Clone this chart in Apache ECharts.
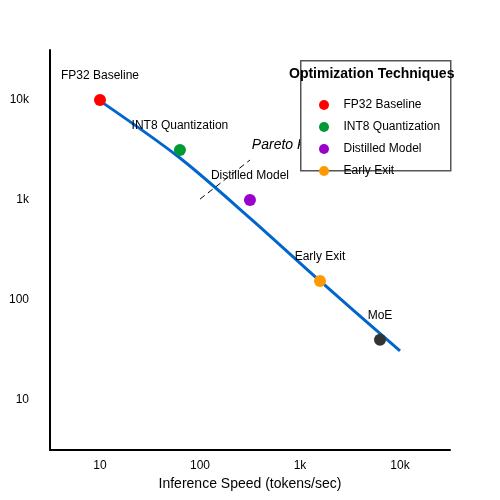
<!DOCTYPE html>
<html>
<head>
<meta charset="utf-8">
<script src="https://cdn.jsdelivr.net/npm/echarts@6/dist/echarts.min.js"></script>
<style>html,body{margin:0;padding:0;background:#fff}#c{width:500px;height:500px}</style>
</head>
<body>
<div id="c"></div>
<script>
// 各优化方法：名称、速度(tokens/sec)、困惑度
var names = ['FP32 Baseline', 'INT8 Quantization', 'Distilled Model', 'Early Exit', 'MoE'];
var speeds = [10, 63, 316, 1585, 6310];
var perplexity = [10000, 3162, 1000, 155, 40];
var colors = ['#ff0000', '#009933', '#9900cc', '#ff9900', '#333333'];

// Pareto 前沿曲线
var frontierSpeed = [10, 63, 316, 1585, 10000];
var frontierPpl = [9800, 2630, 660, 155, 31];

// 注释虚线
var noteSpeed = [100, 316];
var notePpl = [1020, 2510];

var tickValues = [1, 2, 3, 4];
var tickLabels = ['10', '100', '1k', '10k'];

var lg = Math.log10;
var myChart = echarts.init(document.getElementById('c'));

var series = names.map(function (n, i) {
    return {
        name: n,
        type: 'scatter',
        symbolSize: 12,
        z: 5,
        itemStyle: {color: colors[i], opacity: 1},
        label: {show: true, position: 'top', distance: 12, formatter: n, color: '#000', fontSize: 12},
        data: [[lg(speeds[i]), lg(perplexity[i])]]
    };
});

series.unshift({
    type: 'line',
    smooth: 0.3,
    symbol: 'none',
    z: 2,
    lineStyle: {color: '#0066cc', width: 3},
    data: frontierSpeed.map(function (v, i) { return [lg(v), lg(frontierPpl[i])]; })
});

series.push({
    type: 'line',
    symbol: 'none',
    z: 2,
    lineStyle: {color: '#000', width: 1, type: [6, 4]},
    data: noteSpeed.map(function (v, i) { return [lg(v), lg(notePpl[i])]; })
});

series.push({
    type: 'scatter',
    symbolSize: 0,
    z: 3,
    itemStyle: {opacity: 1},
    label: {show: true, position: 'right', distance: 0, formatter: 'Pareto Frontier', fontStyle: 'italic', fontSize: 14, color: '#000'},
    data: [[lg(330), lg(3500)]]
});

var axisCommon = {
    type: 'value',
    min: 0.5,
    max: 4.5,
    splitLine: {show: false},
    axisLine: {show: true, lineStyle: {color: '#000', width: 2}},
    axisTick: {show: false},
    nameLocation: 'middle',
    nameTextStyle: {color: '#000', fontSize: 14},
    axisLabel: {
        customValues: tickValues,
        color: '#000',
        fontSize: 12,
        formatter: function (v) { return tickLabels[tickValues.indexOf(Math.round(v))] || ''; }
    }
};

var option = {
    animation: false,
    textStyle: {fontFamily: 'Liberation Sans, Arial, sans-serif'},
    grid: {left: 50, right: 50, top: 50, bottom: 50, containLabel: false, outerBoundsMode: 'none'},
    xAxis: echarts.util.merge({name: 'Inference Speed (tokens/sec)', nameGap: 18, axisLabel: {margin: 10}}, axisCommon, true),
    yAxis: echarts.util.merge({name: 'Accuracy (Perplexity)', nameGap: 30, axisLabel: {margin: 21}}, axisCommon, true),
    graphic: [
        {type: 'rect', left: 300, top: 60, z: 50, shape: {width: 150, height: 110},
            style: {fill: '#fff', stroke: '#555', lineWidth: 1.5}},
        {type: 'text', left: 289, top: 67, z: 51,
            style: {text: 'Optimization Techniques', font: 'bold 14px Liberation Sans, Arial, sans-serif', fill: '#000'}}
    ],
    legend: {
        data: names.slice(0, 4),
        orient: 'vertical',
        left: 314,
        top: 94,
        z: 52,
        itemGap: 10,
        itemWidth: 11,
        itemHeight: 10,
        icon: 'circle',
        textStyle: {color: '#000', fontSize: 12, padding: [0, 0, 0, 9]}
    },
    series: series
};

myChart.setOption(option);
</script>
</body>
</html>
